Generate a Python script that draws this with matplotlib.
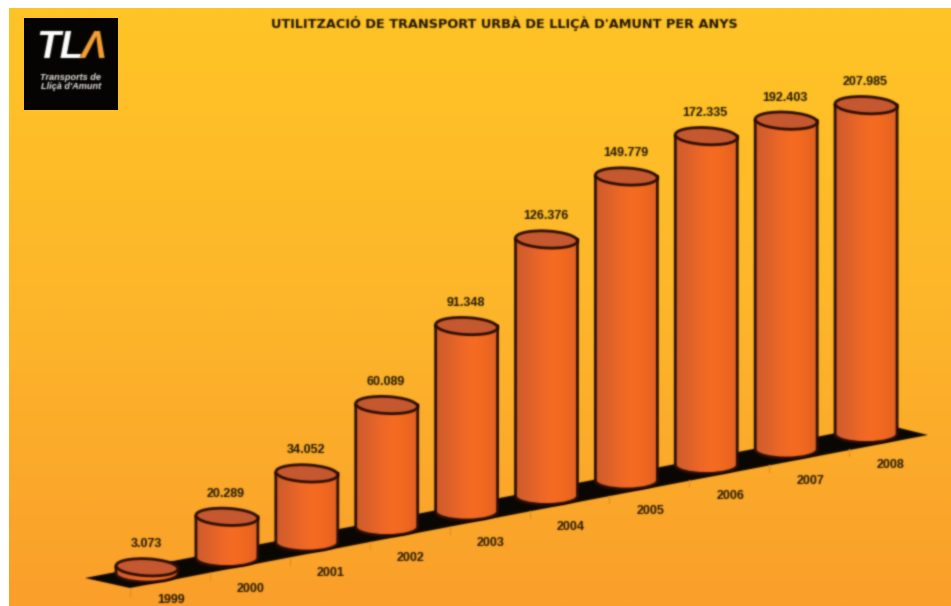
# coding=utf-8

import numpy as np
import matplotlib.pyplot as plt
from matplotlib.patches import Ellipse, PathPatch, Polygon, Rectangle
from matplotlib.path import Path
from matplotlib.colors import LinearSegmentedColormap

plt.rcParams['font.family'] = ['Liberation Sans', 'DejaVu Sans']

years = [1999, 2000, 2001, 2002, 2003, 2004, 2005, 2006, 2007, 2008]
values = [3073, 20289, 34052, 60089, 91348, 126376, 149779, 172335, 192403, 207985]
value_labels = ['3.073', '20.289', '34.052', '60.089', '91.348', '126.376',
                '149.779', '172.335', '192.403', '207.985']
title = "UTILITZACIÓ DE TRANSPORT URBÀ DE LLIÇÀ D'AMUNT PER ANYS"

W, H = 951, 606
RX, RY = 31, 8.5
# the original chart's value axis stops short of the last three bars
VALUE_CAP = 162000


def px(year):
    return 147 + 79.9 * (year - 1999)


def base_y(year):
    return 573.5 - 15.5 * (year - 1999)


def bar_h(value):
    return min(value, VALUE_CAP) * 0.00203


def soften(img, dpi):
    # the reference is a blurry jpeg
    pad = 4
    out = np.pad(img, ((pad, pad), (pad, pad), (0, 0)))
    a = out[:, :, 3:].copy()
    out[:, :, :3] *= a
    kernel = np.array([0.03, 0.2, 0.54, 0.2, 0.03])
    for axis in (0, 1):
        out = np.apply_along_axis(lambda m: np.convolve(m, kernel, mode='same'), axis, out)
    a = np.clip(out[:, :, 3:], 1e-4, 1)
    out[:, :, :3] = np.clip(out[:, :, :3] / a, 0, 1)
    return out, -pad, -pad


fig = plt.figure(figsize=(W / 100, H / 100), dpi=100)
ax = fig.add_axes([0, 0, 1, 1])
ax.set_xlim(0, W)
ax.set_ylim(H, 0)
ax.axis('off')

# background
bg = LinearSegmentedColormap.from_list('bg', ['#FFC426', '#FDB62A', '#FA9F2A'])
ax.imshow(np.linspace(0, 1, 256).reshape(-1, 1), cmap=bg, aspect='auto',
          extent=(9, W, H, 8), zorder=0)

# floor
floor = ax.add_patch(Polygon([(85, 578), (130, 588), (928, 435), (883, 424)],
                             closed=True, fc='#0a0703', ec='none', zorder=1))
floor.set_agg_filter(soften)

# ticks below the floor
for yr in years:
    x, y = px(yr) - 17, base_y(yr) + 15
    tick, = ax.plot([x, x], [y, y + 7], color='#e08f20', lw=0.8, zorder=1)
    tick.set_agg_filter(soften)

body_cmap = LinearSegmentedColormap.from_list(
    'body', ['#CF5C2C', '#DC612B', '#EC6727', '#F66B22', '#F0681F', '#DF6122'])

# cylinders
for yr, val, lab in zip(years, values, value_labels):
    cx = px(yr)
    yb = base_y(yr)
    yt = yb - bar_h(val)
    k = 0.5522847
    verts = [(cx - RX, yt), (cx - RX, yb),
             (cx - RX, yb + k * RY), (cx - k * RX, yb + RY), (cx, yb + RY),
             (cx + k * RX, yb + RY), (cx + RX, yb + k * RY), (cx + RX, yb),
             (cx + RX, yt), (cx - RX, yt)]
    codes = [Path.MOVETO, Path.LINETO, Path.CURVE4, Path.CURVE4, Path.CURVE4,
             Path.CURVE4, Path.CURVE4, Path.CURVE4, Path.LINETO, Path.CLOSEPOLY]
    outline = Path(verts, codes)
    clip = PathPatch(outline, transform=ax.transData, fc='none', ec='none')
    ax.add_patch(clip)
    im = ax.imshow(np.linspace(0, 1, 64).reshape(1, -1), cmap=body_cmap, aspect='auto',
                   extent=(cx - RX, cx + RX, yb + RY, yt), zorder=3)
    im.set_clip_path(clip)
    side = ax.add_patch(PathPatch(outline, fc='none', ec='#2c0e04', lw=2.0, zorder=4))
    side.set_agg_filter(soften)
    lid = ax.add_patch(Ellipse((cx, yt), 2 * RX, 2 * RY, angle=3, fc='#C6582F', ec='#2c0e04',
                               lw=2.0, zorder=5))
    lid.set_agg_filter(soften)
    t1 = ax.text(cx - 1, yt - 23, lab, ha='center', va='center', fontsize=9, fontweight='bold',
                 color='#1f1705', zorder=6)
    t2 = ax.text(cx + 24, min(yb + 31, 600), str(yr), ha='center', va='center', fontsize=9,
                 fontweight='bold', color='#261804', zorder=6)
    t1.set_agg_filter(soften)
    t2.set_agg_filter(soften)

t = ax.text(504, 23.5, title, ha='center', va='center', fontsize=9.25, fontweight='bold',
            family=['DejaVu Sans'], color='#1f1404', zorder=6)
t.set_agg_filter(soften)

# logo
ax.add_patch(Rectangle((24, 18), 94, 92, fc='#050403', ec='none', zorder=6))
t = ax.text(36, 48, 'TL', ha='left', va='center', fontsize=28, fontweight='bold', style='italic',
            color='white', zorder=7)
t.set_agg_filter(soften)
t = ax.text(81, 48, 'Λ', ha='left', va='center', fontsize=28, fontweight='bold', style='italic',
            color='#F6A033', zorder=7)
t.set_agg_filter(soften)
t = ax.text(71, 82, 'Transports de\nLliçà d\'Amunt', ha='center', va='center', fontsize=6.6,
            fontweight='bold', style='italic', color='#e8e4dc', linespacing=1.05, zorder=7)
t.set_agg_filter(soften)

fig.savefig('out.png', dpi=100, facecolor='white')
